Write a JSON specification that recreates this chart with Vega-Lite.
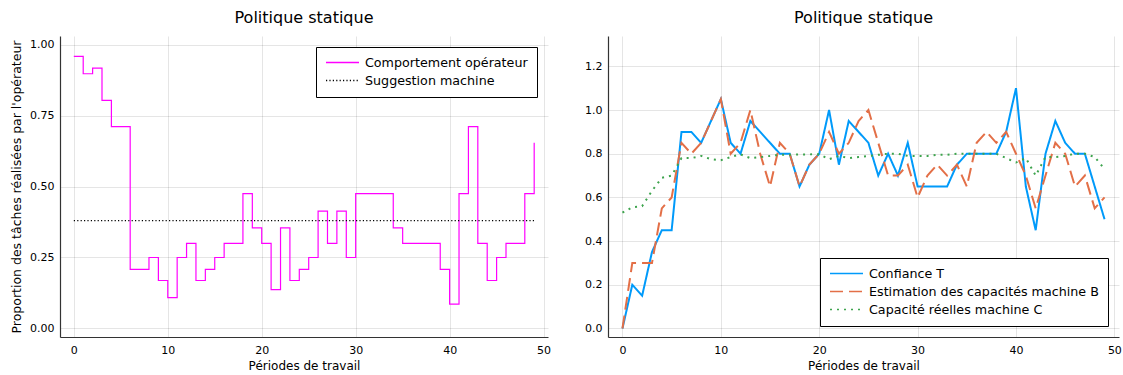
{
  "$schema": "https://vega.github.io/schema/vega-lite/v6.json",
  "background": "white",
  "padding": {"left": 10, "top": 10, "right": 2, "bottom": 1},
  "spacing": 33,
  "datasets": {
    "gauche": [
      {"periode": 0, "operateur": 0.958, "suggestion": 0.38},
      {"periode": 1, "operateur": 0.897, "suggestion": 0.38},
      {"periode": 2, "operateur": 0.917, "suggestion": 0.38},
      {"periode": 3, "operateur": 0.803, "suggestion": 0.38},
      {"periode": 4, "operateur": 0.711, "suggestion": 0.38},
      {"periode": 5, "operateur": 0.711, "suggestion": 0.38},
      {"periode": 6, "operateur": 0.208, "suggestion": 0.38},
      {"periode": 7, "operateur": 0.208, "suggestion": 0.38},
      {"periode": 8, "operateur": 0.25, "suggestion": 0.38},
      {"periode": 9, "operateur": 0.169, "suggestion": 0.38},
      {"periode": 10, "operateur": 0.109, "suggestion": 0.38},
      {"periode": 11, "operateur": 0.25, "suggestion": 0.38},
      {"periode": 12, "operateur": 0.30, "suggestion": 0.38},
      {"periode": 13, "operateur": 0.169, "suggestion": 0.38},
      {"periode": 14, "operateur": 0.208, "suggestion": 0.38},
      {"periode": 15, "operateur": 0.25, "suggestion": 0.38},
      {"periode": 16, "operateur": 0.30, "suggestion": 0.38},
      {"periode": 17, "operateur": 0.30, "suggestion": 0.38},
      {"periode": 18, "operateur": 0.475, "suggestion": 0.38},
      {"periode": 19, "operateur": 0.354, "suggestion": 0.38},
      {"periode": 20, "operateur": 0.30, "suggestion": 0.38},
      {"periode": 21, "operateur": 0.137, "suggestion": 0.38},
      {"periode": 22, "operateur": 0.354, "suggestion": 0.38},
      {"periode": 23, "operateur": 0.169, "suggestion": 0.38},
      {"periode": 24, "operateur": 0.208, "suggestion": 0.38},
      {"periode": 25, "operateur": 0.25, "suggestion": 0.38},
      {"periode": 26, "operateur": 0.413, "suggestion": 0.38},
      {"periode": 27, "operateur": 0.30, "suggestion": 0.38},
      {"periode": 28, "operateur": 0.413, "suggestion": 0.38},
      {"periode": 29, "operateur": 0.25, "suggestion": 0.38},
      {"periode": 30, "operateur": 0.475, "suggestion": 0.38},
      {"periode": 31, "operateur": 0.475, "suggestion": 0.38},
      {"periode": 32, "operateur": 0.475, "suggestion": 0.38},
      {"periode": 33, "operateur": 0.475, "suggestion": 0.38},
      {"periode": 34, "operateur": 0.354, "suggestion": 0.38},
      {"periode": 35, "operateur": 0.30, "suggestion": 0.38},
      {"periode": 36, "operateur": 0.30, "suggestion": 0.38},
      {"periode": 37, "operateur": 0.30, "suggestion": 0.38},
      {"periode": 38, "operateur": 0.30, "suggestion": 0.38},
      {"periode": 39, "operateur": 0.208, "suggestion": 0.38},
      {"periode": 40, "operateur": 0.086, "suggestion": 0.38},
      {"periode": 41, "operateur": 0.475, "suggestion": 0.38},
      {"periode": 42, "operateur": 0.711, "suggestion": 0.38},
      {"periode": 43, "operateur": 0.30, "suggestion": 0.38},
      {"periode": 44, "operateur": 0.169, "suggestion": 0.38},
      {"periode": 45, "operateur": 0.25, "suggestion": 0.38},
      {"periode": 46, "operateur": 0.30, "suggestion": 0.38},
      {"periode": 47, "operateur": 0.30, "suggestion": 0.38},
      {"periode": 48, "operateur": 0.475, "suggestion": 0.38},
      {"periode": 49, "operateur": 0.654, "suggestion": 0.38}
    ],
    "droite": [
      {"periode": 0, "T": 0.00, "B": 0.00, "C": 0.53},
      {"periode": 1, "T": 0.20, "B": 0.30, "C": 0.555},
      {"periode": 2, "T": 0.15, "B": 0.30, "C": 0.56},
      {"periode": 3, "T": 0.35, "B": 0.30, "C": 0.63},
      {"periode": 4, "T": 0.45, "B": 0.55, "C": 0.69},
      {"periode": 5, "T": 0.45, "B": 0.60, "C": 0.70},
      {"periode": 6, "T": 0.90, "B": 0.85, "C": 0.78},
      {"periode": 7, "T": 0.90, "B": 0.80, "C": 0.78},
      {"periode": 8, "T": 0.85, "B": 0.85, "C": 0.79},
      {"periode": 9, "T": 0.95, "B": 0.95, "C": 0.775},
      {"periode": 10, "T": 1.05, "B": 1.05, "C": 0.77},
      {"periode": 11, "T": 0.85, "B": 0.80, "C": 0.785},
      {"periode": 12, "T": 0.80, "B": 0.85, "C": 0.797},
      {"periode": 13, "T": 0.95, "B": 1.00, "C": 0.78},
      {"periode": 14, "T": 0.90, "B": 0.80, "C": 0.785},
      {"periode": 15, "T": 0.85, "B": 0.65, "C": 0.79},
      {"periode": 16, "T": 0.80, "B": 0.85, "C": 0.795},
      {"periode": 17, "T": 0.80, "B": 0.80, "C": 0.795},
      {"periode": 18, "T": 0.65, "B": 0.65, "C": 0.797},
      {"periode": 19, "T": 0.75, "B": 0.75, "C": 0.797},
      {"periode": 20, "T": 0.80, "B": 0.80, "C": 0.798},
      {"periode": 21, "T": 1.00, "B": 0.90, "C": 0.775},
      {"periode": 22, "T": 0.75, "B": 0.80, "C": 0.79},
      {"periode": 23, "T": 0.95, "B": 0.85, "C": 0.78},
      {"periode": 24, "T": 0.90, "B": 0.95, "C": 0.785},
      {"periode": 25, "T": 0.85, "B": 1.00, "C": 0.79},
      {"periode": 26, "T": 0.70, "B": 0.85, "C": 0.795},
      {"periode": 27, "T": 0.80, "B": 0.70, "C": 0.80},
      {"periode": 28, "T": 0.70, "B": 0.70, "C": 0.80},
      {"periode": 29, "T": 0.85, "B": 0.75, "C": 0.79},
      {"periode": 30, "T": 0.65, "B": 0.60, "C": 0.79},
      {"periode": 31, "T": 0.65, "B": 0.70, "C": 0.79},
      {"periode": 32, "T": 0.65, "B": 0.75, "C": 0.795},
      {"periode": 33, "T": 0.65, "B": 0.70, "C": 0.795},
      {"periode": 34, "T": 0.75, "B": 0.75, "C": 0.80},
      {"periode": 35, "T": 0.80, "B": 0.65, "C": 0.80},
      {"periode": 36, "T": 0.80, "B": 0.85, "C": 0.80},
      {"periode": 37, "T": 0.80, "B": 0.90, "C": 0.80},
      {"periode": 38, "T": 0.80, "B": 0.85, "C": 0.80},
      {"periode": 39, "T": 0.90, "B": 0.90, "C": 0.78},
      {"periode": 40, "T": 1.10, "B": 0.80, "C": 0.76},
      {"periode": 41, "T": 0.65, "B": 0.70, "C": 0.78},
      {"periode": 42, "T": 0.45, "B": 0.55, "C": 0.70},
      {"periode": 43, "T": 0.80, "B": 0.70, "C": 0.785},
      {"periode": 44, "T": 0.95, "B": 0.85, "C": 0.785},
      {"periode": 45, "T": 0.85, "B": 0.80, "C": 0.79},
      {"periode": 46, "T": 0.80, "B": 0.65, "C": 0.80},
      {"periode": 47, "T": 0.80, "B": 0.70, "C": 0.80},
      {"periode": 48, "T": 0.65, "B": 0.55, "C": 0.785},
      {"periode": 49, "T": 0.50, "B": 0.60, "C": 0.73}
    ]
  },
  "hconcat": [
    {
      "width": 488,
      "height": 301,
      "title": {"text": "Politique statique"},
      "data": {"name": "gauche"},
      "transform": [{"fold": ["operateur", "suggestion"], "as": ["serie_g", "valeur"]}],
      "mark": {"type": "line", "interpolate": "step-after", "strokeWidth": 1.2, "clip": true},
      "encoding": {
        "x": {"field": "periode", "type": "quantitative",
              "scale": {"domain": [-1.47, 50.47], "nice": false, "zero": false},
              "axis": {"values": [0, 10, 20, 30, 40, 50], "title": "Périodes de travail"}},
        "y": {"field": "valeur", "type": "quantitative",
              "scale": {"domain": [-0.03, 1.03], "nice": false, "zero": false},
              "axis": {"values": [0, 0.25, 0.5, 0.75, 1], "format": ".2f", "title": "Proportion des tâches réalisées par l'opérateur", "titlePadding": 6, "labelPadding": 6, "titleFontSize": 12.5}},
        "color": {"field": "serie_g", "type": "nominal",
                  "scale": {"domain": ["operateur", "suggestion"], "range": ["#FF00FF", "#000000"]},
                  "legend": {"orient": "top-right", "offset": 11, "title": null,
                             "labelExpr": "datum.label == 'operateur' ? 'Comportement opérateur' : 'Suggestion machine'"}},
        "strokeDash": {"field": "serie_g", "type": "nominal",
                       "scale": {"domain": ["operateur", "suggestion"], "range": [[1, 0], [1.2, 2.2]]},
                       "legend": {"orient": "top-right", "offset": 11, "title": null,
                                  "labelExpr": "datum.label == 'operateur' ? 'Comportement opérateur' : 'Suggestion machine'"}}
      }
    },
    {
      "width": 511,
      "height": 301,
      "title": {"text": "Politique statique"},
      "data": {"name": "droite"},
      "transform": [{"fold": ["T", "B", "C"], "as": ["serie_d", "valeur"]}],
      "mark": {"type": "line", "strokeWidth": 2, "clip": true},
      "encoding": {
        "x": {"field": "periode", "type": "quantitative",
              "scale": {"domain": [-1.47, 50.47], "nice": false, "zero": false},
              "axis": {"values": [0, 10, 20, 30, 40, 50], "title": "Périodes de travail"}},
        "y": {"field": "valeur", "type": "quantitative",
              "scale": {"domain": [-0.039, 1.339], "nice": false, "zero": false},
              "axis": {"values": [0, 0.2, 0.4, 0.6, 0.8, 1.0, 1.2], "format": ".1f", "title": null, "labelPadding": 6}},
        "color": {"field": "serie_d", "type": "nominal",
                  "scale": {"domain": ["T", "B", "C"], "range": ["#009AFA", "#E36F47", "#3EA44E"]},
                  "legend": {"orient": "bottom-right", "offset": 11, "title": null,
                             "labelExpr": "datum.label == 'T' ? 'Confiance T' : datum.label == 'B' ? 'Estimation des capacités machine B' : 'Capacité réelles machine C'"}},
        "strokeDash": {"field": "serie_d", "type": "nominal",
                       "scale": {"domain": ["T", "B", "C"], "range": [[1, 0], [13, 6], [2, 5]]},
                       "legend": {"orient": "bottom-right", "offset": 11, "title": null,
                                  "labelExpr": "datum.label == 'T' ? 'Confiance T' : datum.label == 'B' ? 'Estimation des capacités machine B' : 'Capacité réelles machine C'"}}
      }
    }
  ],
  "resolve": {"scale": {"color": "independent", "strokeDash": "independent", "x": "independent", "y": "independent"},
              "legend": {"color": "independent", "strokeDash": "independent"}},
  "config": {
    "font": "DejaVu Sans",
    "view": {"stroke": null},
    "title": {"fontSize": 16, "fontWeight": "normal", "font": "DejaVu Sans", "color": "#000", "offset": 10},
    "axis": {
      "domainColor": "#333333", "domainWidth": 1.2,
      "gridColor": "#000000", "gridOpacity": 0.1, "gridWidth": 1,
      "ticks": false,
      "labelFont": "DejaVu Sans", "labelFontSize": 11, "labelColor": "#000",
      "titleFont": "DejaVu Sans", "titleFontSize": 12, "titleFontWeight": "normal", "titleColor": "#000"
    },
    "axisX": {"labelPadding": 7, "titlePadding": 5},
    "legend": {
      "fillColor": "white", "strokeColor": "#000000", "padding": 9,
      "labelFont": "DejaVu Sans", "labelFontSize": 12.7, "labelColor": "#000", "labelLimit": 400,
      "symbolStrokeWidth": 1.5, "rowPadding": 4, "symbolType": "M-1,0H5", "symbolSize": 121, "labelOffset": 27
    }
  }
}
